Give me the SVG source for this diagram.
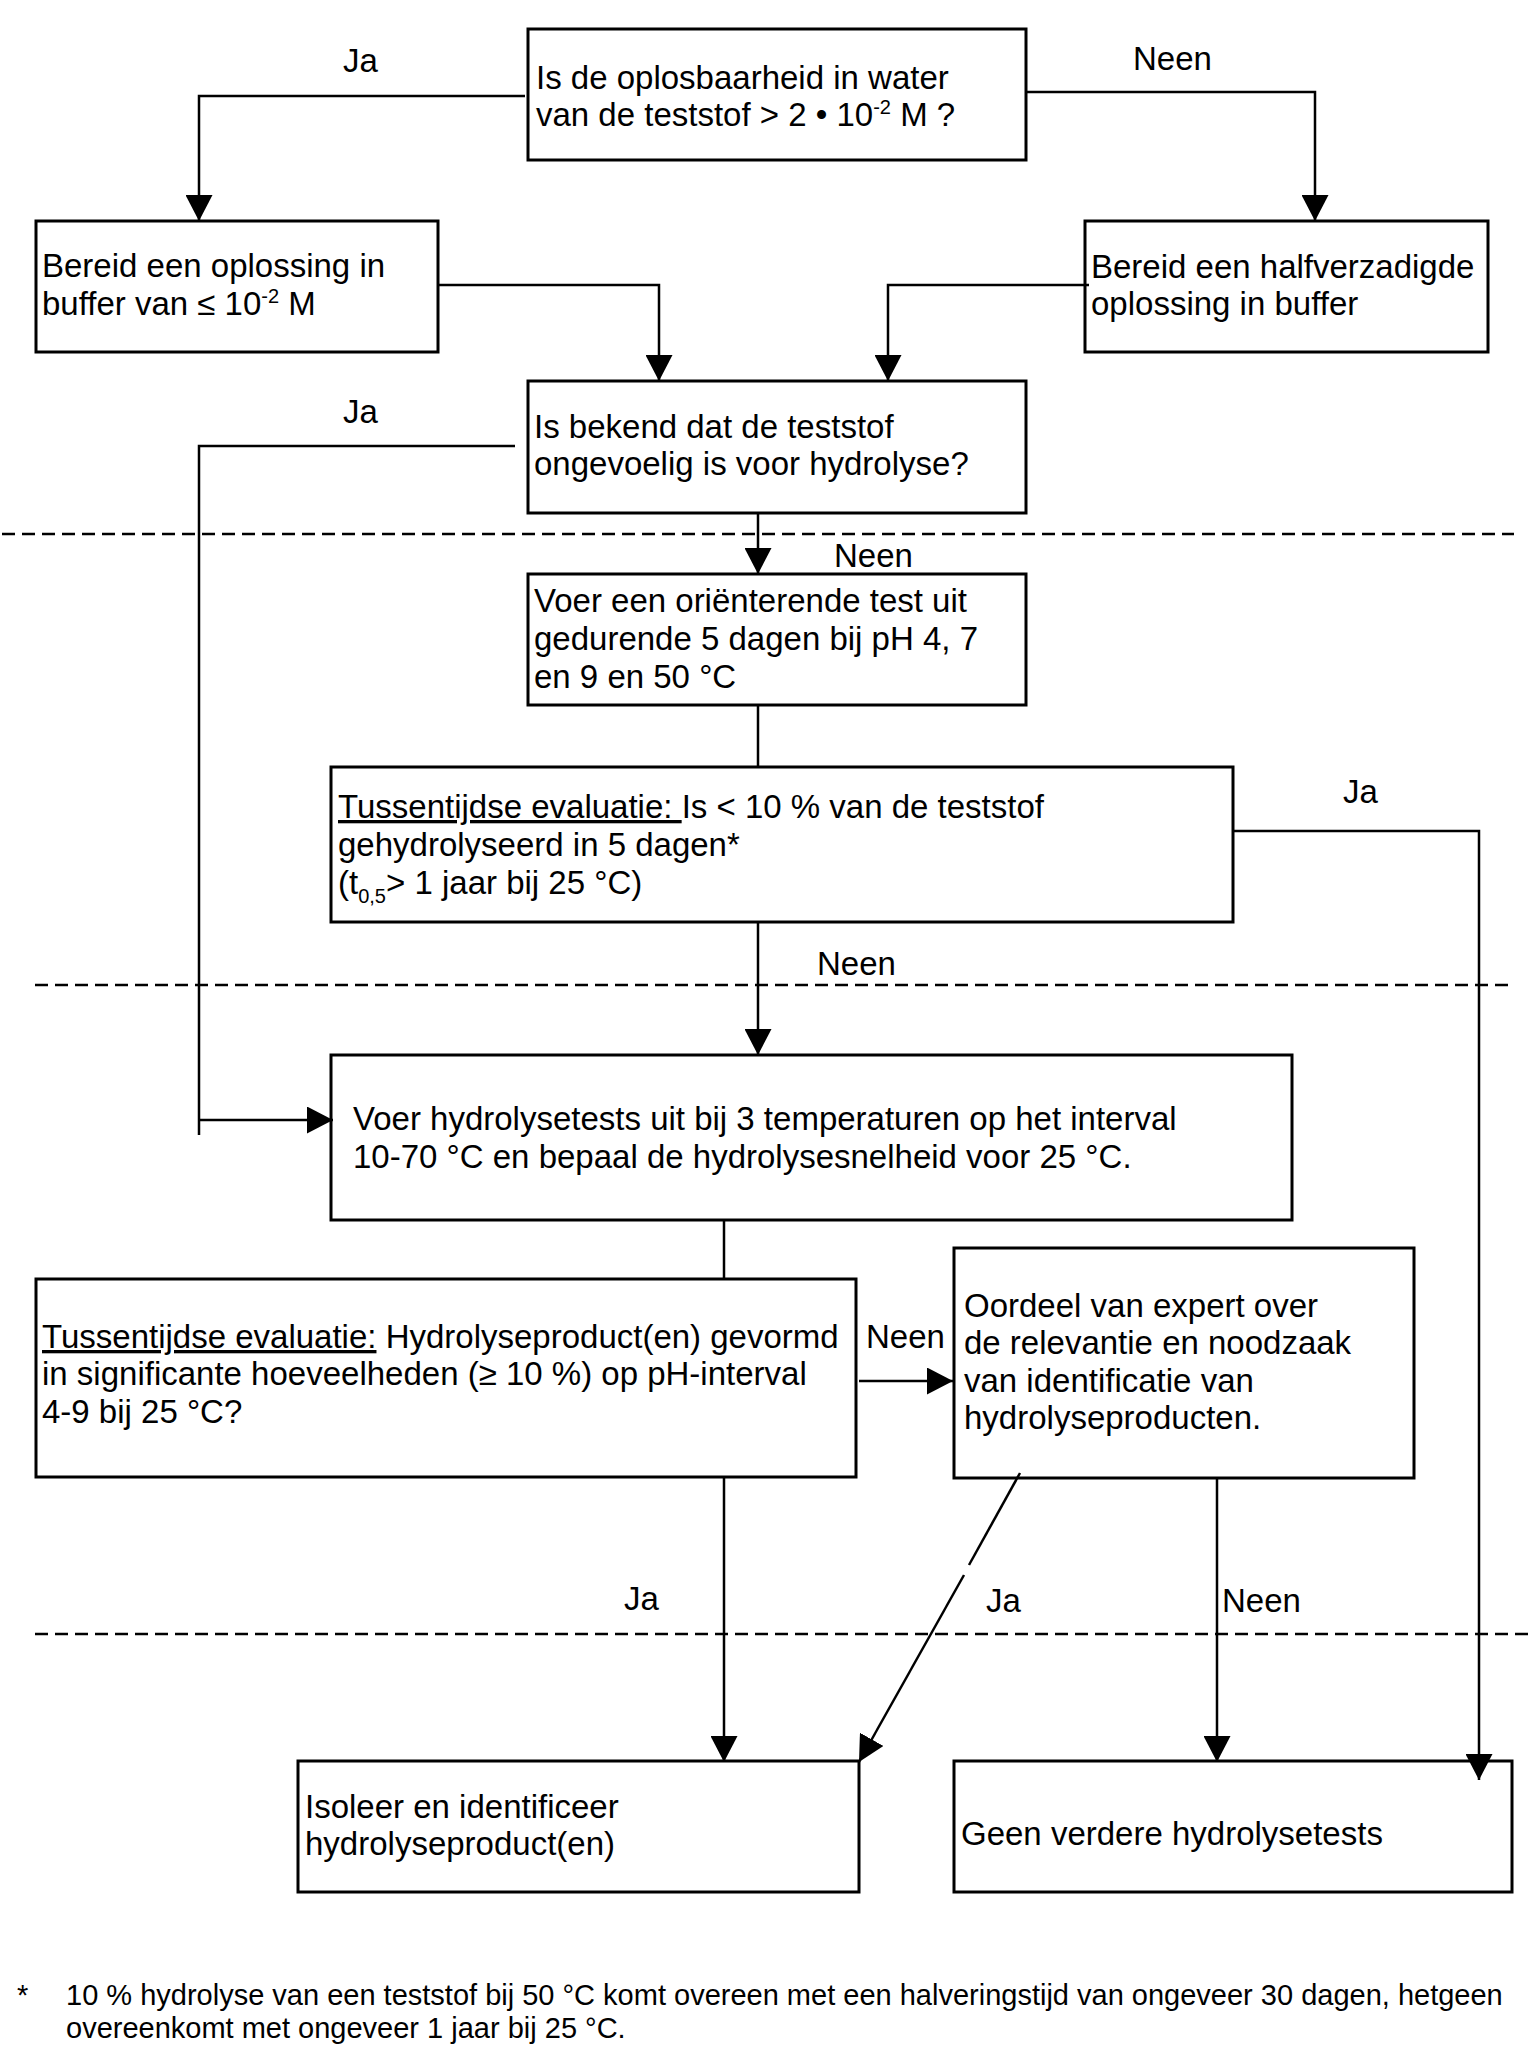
<svg xmlns="http://www.w3.org/2000/svg" width="1535" height="2067" viewBox="0 0 1535 2067">
<style>
  .box { fill: #ffffff; stroke: #000000; stroke-width: 3; }
  .t { font-family: "Liberation Sans", Arial, sans-serif; font-size: 33px; fill: #000000; }
  .lbl { font-family: "Liberation Sans", Arial, sans-serif; font-size: 33px; fill: #000000; }
  .fn { font-family: "Liberation Sans", Arial, sans-serif; font-size: 29px; fill: #000000; }
  .c { fill: none; stroke: #000000; stroke-width: 2.5; }
  .ca { fill: none; stroke: #000000; stroke-width: 2.5; marker-end: url(#arrow); }
  .dash { fill: none; stroke: #000000; stroke-width: 2.5; stroke-dasharray: 13 7; }
  .u { text-decoration: underline; }
</style>
<defs>
  <marker id="arrow" viewBox="0 0 26 27" refX="26" refY="13.5" markerWidth="26" markerHeight="27" markerUnits="userSpaceOnUse" orient="auto">
    <path d="M0,0 L26,13.5 L0,27 z" fill="#000000"/>
  </marker>
</defs>
<rect width="1535" height="2067" fill="#ffffff"/>

<g id="separators">
  <line class="dash" x1="2" y1="534" x2="1514" y2="534"/>
  <line class="dash" x1="35" y1="985" x2="1514" y2="985"/>
  <line class="dash" x1="35" y1="1634" x2="1533" y2="1634"/>
</g>

<g id="node-oplosbaarheid">
  <rect class="box" x="528" y="29" width="498" height="131"/>
  <text class="t" x="536" y="89">Is de oplosbaarheid in water</text>
  <text class="t" x="536" y="126">van de teststof &gt; 2 • 10<tspan font-size="20" dy="-12">-2</tspan><tspan dy="12"> M ?</tspan></text>
</g>

<g id="node-bereid-oplossing">
  <rect class="box" x="36" y="221" width="402" height="131"/>
  <text class="t" x="42" y="277">Bereid een oplossing in</text>
  <text class="t" x="42" y="315">buffer van ≤ 10<tspan font-size="20" dy="-12">-2</tspan><tspan dy="12"> M</tspan></text>
</g>

<g id="node-bereid-halfverzadigd">
  <rect class="box" x="1085" y="221" width="403" height="131"/>
  <text class="t" x="1091" y="278">Bereid een halfverzadigde</text>
  <text class="t" x="1091" y="315">oplossing in buffer</text>
</g>

<g id="node-bekend">
  <rect class="box" x="528" y="381" width="498" height="132"/>
  <text class="t" x="534" y="438">Is bekend dat de teststof</text>
  <text class="t" x="534" y="475">ongevoelig is voor hydrolyse?</text>
</g>

<g id="node-orienterend">
  <rect class="box" x="528" y="574" width="498" height="131"/>
  <text class="t" x="534" y="612">Voer een oriënterende test uit</text>
  <text class="t" x="534" y="650">gedurende 5 dagen bij pH 4, 7</text>
  <text class="t" x="534" y="688">en 9 en 50 °C</text>
</g>

<g id="node-evaluatie-1">
  <rect class="box" x="331" y="767" width="902" height="155"/>
  <text class="t" x="338" y="818"><tspan class="u">Tussentijdse evaluatie: </tspan>Is &lt; 10 % van de teststof</text>
  <text class="t" x="338" y="856">gehydrolyseerd in 5 dagen*</text>
  <text class="t" x="338" y="894">(t<tspan font-size="20" dy="9">0,5</tspan><tspan dy="-9">&gt; 1 jaar bij 25 °C)</tspan></text>
</g>

<g id="node-hydrolysetests">
  <rect class="box" x="331" y="1055" width="961" height="165"/>
  <text class="t" x="353" y="1130">Voer hydrolysetests uit bij 3 temperaturen op het interval</text>
  <text class="t" x="353" y="1168">10-70 °C en bepaal de hydrolysesnelheid voor 25 °C.</text>
</g>

<g id="node-evaluatie-2">
  <rect class="box" x="36" y="1279" width="820" height="198"/>
  <text class="t" x="42" y="1348"><tspan class="u">Tussentijdse evaluatie:</tspan> Hydrolyseproduct(en) gevormd</text>
  <text class="t" x="42" y="1385">in significante hoeveelheden (≥ 10 %) op pH-interval</text>
  <text class="t" x="42" y="1423">4-9 bij 25 °C?</text>
</g>

<g id="node-oordeel">
  <rect class="box" x="954" y="1248" width="460" height="230"/>
  <text class="t" x="964" y="1317">Oordeel van expert over</text>
  <text class="t" x="964" y="1354">de relevantie en noodzaak</text>
  <text class="t" x="964" y="1392">van identificatie van</text>
  <text class="t" x="964" y="1429">hydrolyseproducten.</text>
</g>

<g id="node-isoleer">
  <rect class="box" x="298" y="1761" width="561" height="131"/>
  <text class="t" x="305" y="1818">Isoleer en identificeer</text>
  <text class="t" x="305" y="1855">hydrolyseproduct(en)</text>
</g>

<g id="node-geen">
  <rect class="box" x="954" y="1761" width="558" height="131"/>
  <text class="t" x="961" y="1845">Geen verdere hydrolysetests</text>
</g>

<g id="connectors">
  <path class="ca" d="M525,96 H199 V221"/>
  <path class="ca" d="M1026,92 H1315 V221"/>
  <path class="ca" d="M438,285 H659 V381"/>
  <path class="ca" d="M1089,285 H888 V381"/>
  <path class="ca" d="M758,513 V574"/>
  <path class="c" d="M758,705 V767"/>
  <path class="ca" d="M758,922 V1055"/>
  <path class="c" d="M515,446 H199 V1135"/>
  <path class="ca" d="M199,1120 H333"/>
  <path class="ca" d="M1233,831 H1479 V1780"/>
  <path class="c" d="M724,1220 V1279"/>
  <path class="ca" d="M724,1477 V1762"/>
  <path class="ca" d="M859,1381 H953"/>
  <path class="c" d="M1020,1473 L969,1565"/>
  <path class="ca" d="M964,1575 L859,1762"/>
  <path class="ca" d="M1217,1478 V1762"/>
  <text class="lbl" x="343" y="72">Ja</text>
  <text class="lbl" x="1133" y="70">Neen</text>
  <text class="lbl" x="343" y="423">Ja</text>
  <text class="lbl" x="834" y="567">Neen</text>
  <text class="lbl" x="1343" y="803">Ja</text>
  <text class="lbl" x="817" y="975">Neen</text>
  <text class="lbl" x="866" y="1348">Neen</text>
  <text class="lbl" x="624" y="1610">Ja</text>
  <text class="lbl" x="986" y="1612">Ja</text>
  <text class="lbl" x="1222" y="1612">Neen</text>
</g>

<g id="footnote">
  <text class="fn" x="17" y="2005">*</text>
  <text class="fn" x="66" y="2005">10 % hydrolyse van een teststof bij 50 °C komt overeen met een halveringstijd van ongeveer 30 dagen, hetgeen</text>
  <text class="fn" x="66" y="2038">overeenkomt met ongeveer 1 jaar bij 25 °C.</text>
</g>
</svg>
